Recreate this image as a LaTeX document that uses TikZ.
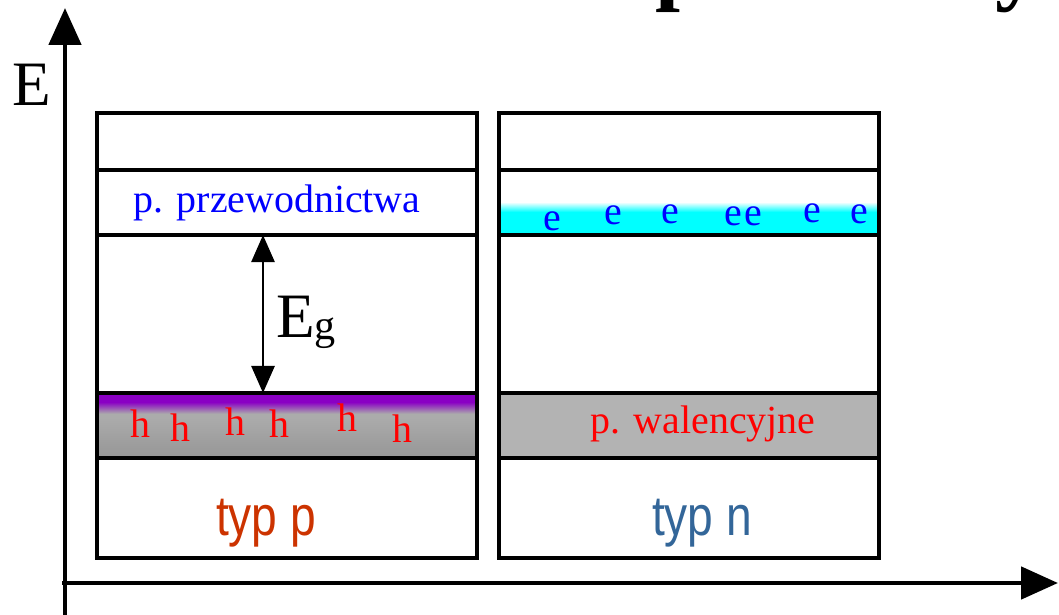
\documentclass[tikz,border=0pt]{standalone}
\usepackage{xcolor}
\usepackage{fontspec}
\setmainfont{Liberation Serif}
\newfontfamily\typfont{Liberation Sans}[FakeStretch=0.82]
\usetikzlibrary{arrows.meta, positioning}

\definecolor{holepurple}{HTML}{8A00C4}
\definecolor{bandgreyA}{HTML}{ABABAB}
\definecolor{bandgreyB}{HTML}{969696}
\definecolor{valgrey}{HTML}{B3B3B3}
\definecolor{elcyan}{HTML}{00FFFF}
\definecolor{typpcol}{HTML}{CC3300}
\definecolor{typncol}{HTML}{336699}

\pgfdeclareverticalshading{holeband}{100bp}{color(0bp)=(bandgreyB); color(25bp)=(bandgreyB);
  color(56bp)=(bandgreyA); color(59bp)=(bandgreyA); color(68bp)=(holepurple); color(100bp)=(holepurple)}

\newcommand{\bandfont}{\fontsize{22.7}{24}\selectfont}

\begin{document}
\begin{tikzpicture}[x=0.02cm, y=-0.02cm, on grid,
    axis/.style={line width=2.8pt, -{Triangle[length=0.74cm, width=0.64cm]}},
    gaparrow/.style={line width=1.5pt, {Triangle[length=0.54cm, width=0.46cm]}-{Triangle[length=0.54cm, width=0.46cm]}},
    frame/.style={draw, line width=2pt, minimum width=7.6cm, minimum height=8.9cm, inner sep=0pt, outer sep=0pt},
    band/.style={draw, line width=2pt, minimum width=7.6cm, minimum height=1.3cm, inner sep=0pt, outer sep=0pt},
    bandlabel/.style={anchor=base, inner sep=0pt, font=\bandfont},
    hole/.style={anchor=base, inner sep=0pt, text=red, font=\bandfont},
    electron/.style={anchor=base, inner sep=0pt, text=blue, font=\bandfont},
    typlabel/.style={anchor=base, inner sep=0pt, font=\typfont\fontsize{32}{34}\selectfont}]
  \useasboundingbox (0,0) rectangle (1059,615);

  % cut title above
  \node[anchor=base west, inner sep=0pt, font=\bfseries\fontsize{51}{51}\selectfont] (titlep) at (655,-6) {p};
  \node[anchor=base west, inner sep=0pt, font=\bfseries\fontsize{51}{51}\selectfont] (titley) at (995,-6) {y};

  % axes
  \coordinate (yfoot) at (65,615);
  \coordinate (ytip)  at (65,8);
  \coordinate (xfoot) at (62,583);
  \coordinate (xtip)  at (1058,583);
  \draw[axis] (yfoot) -- (ytip);
  \draw[axis] (xfoot) -- (xtip);
  \node[anchor=base, inner sep=0pt, font=\fontsize{36}{38}\selectfont] (elabel) at (32,106) {E};

  % typ p
  \node[frame] (frameP) at (287,335.5) {};
  \node[band] (condP) [above=2.66cm of frameP] {};
  \node[band, shading=holeband] (valP) [below=1.8cm of frameP] {};

  % typ n
  \node[frame] (frameN) [right=8.04cm of frameP] {};
  \node[band, path picture={
      \fill[elcyan] (path picture bounding box.south west) rectangle ([yshift=0.47cm]path picture bounding box.south east);
      \shade[top color=white, bottom color=elcyan] ([yshift=0.46cm]path picture bounding box.south west) rectangle ([yshift=0.66cm]path picture bounding box.south east);
    }] (condN) [above=2.66cm of frameN] {};
  \node[band, fill=valgrey] (valN) [below=1.8cm of frameN] {};

  % band gap
  \draw[gaparrow] ([xshift=-0.48cm]condP.south) -- ([xshift=-0.48cm]valP.north);
  \node[anchor=base west, inner sep=0pt, font=\fontsize{36}{37}\selectfont] (eg) at (276,337)
    {E\raisebox{-0.06cm}{\fontsize{24}{25}\selectfont g}};

  \node[bandlabel, text=blue] (condlabel) at (277,213) {p. przewodnictwa};
  \node[bandlabel, text=red] (vallabel) at (703,433) {p. walencyjne};

  \foreach \x/\y [count=\i] in {140/437, 180/441, 235/435, 279/437, 347/431, 402/442}
    \node[hole] (h\i) at (\x,\y) {h};
  \foreach \x/\y [count=\i] in {552/231, 613/224, 670/223, 733/225, 753/225, 812/222, 859/223}
    \node[electron] (e\i) at (\x,\y) {e};

  \node[typlabel, text=typpcol] (typp) at (266,535) {typ p};
  \node[typlabel, text=typncol] (typn) at (702,535) {typ n};
\end{tikzpicture}
\end{document}
